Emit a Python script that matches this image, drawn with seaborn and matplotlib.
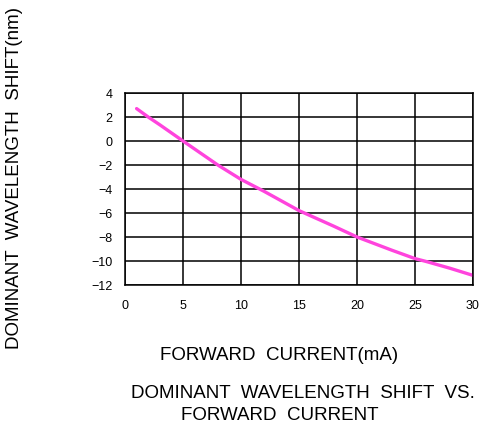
import matplotlib
matplotlib.use("Agg")
import matplotlib.pyplot as plt
import seaborn as sns
import pandas as pd

# values
current_ma = [1, 2, 3, 5, 8, 10, 12, 15, 18, 20, 23, 25, 26, 28, 30]
shift_nm = [2.7, 2.0, 1.35, 0.0, -2.0, -3.2, -4.2, -5.8, -7.1, -8.0, -9.1, -9.8, -10.05, -10.6, -11.2]
x_ticks = [0, 5, 10, 15, 20, 25, 30]
y_ticks = [4, 2, 0, -2, -4, -6, -8, -10, -12]

df = pd.DataFrame({"current": current_ma, "shift": shift_nm})

sns.set_style("white")
plt.rcParams['font.family'] = ['Liberation Sans', 'DejaVu Sans']
plt.rcParams['text.color'] = 'black'

fig = plt.figure(figsize=(4.92, 4.30), dpi=100)
ax = fig.add_axes([125 / 492, 1 - 285 / 430, 348 / 492, 192 / 430])

sns.lineplot(data=df, x="current", y="shift", ax=ax, color="#ff44dd", linewidth=2.4)

ax.set_xlim(0, 30)
ax.set_ylim(-12, 4)
ax.set_xticks(x_ticks)
ax.set_yticks(y_ticks)
ax.grid(True, color="black", linewidth=1.1)
for s in ax.spines.values():
    s.set_color("black")
    s.set_linewidth(1.1)
ax.tick_params(axis="both", length=0, labelsize=9, labelcolor="black")
ax.tick_params(axis="x", pad=11)
ax.tick_params(axis="y", pad=9)
ax.set_xlabel("")
ax.set_ylabel("")

fig.text(15 / 492, 1 - 178 / 430, "DOMINANT  WAVELENGTH  SHIFT(nm)", rotation=90,
         ha="center", va="center", fontsize=13.5)
fig.text(279 / 492, 1 - 356 / 430, "FORWARD  CURRENT(mA)", ha="center", va="center", fontsize=13.5)
fig.text(303 / 492, 1 - 393 / 430, "DOMINANT  WAVELENGTH  SHIFT  VS.", ha="center", va="center", fontsize=13.5)
fig.text(280 / 492, 1 - 416 / 430, "FORWARD  CURRENT", ha="center", va="center", fontsize=13.5)

fig.savefig("out.png", dpi=100)
